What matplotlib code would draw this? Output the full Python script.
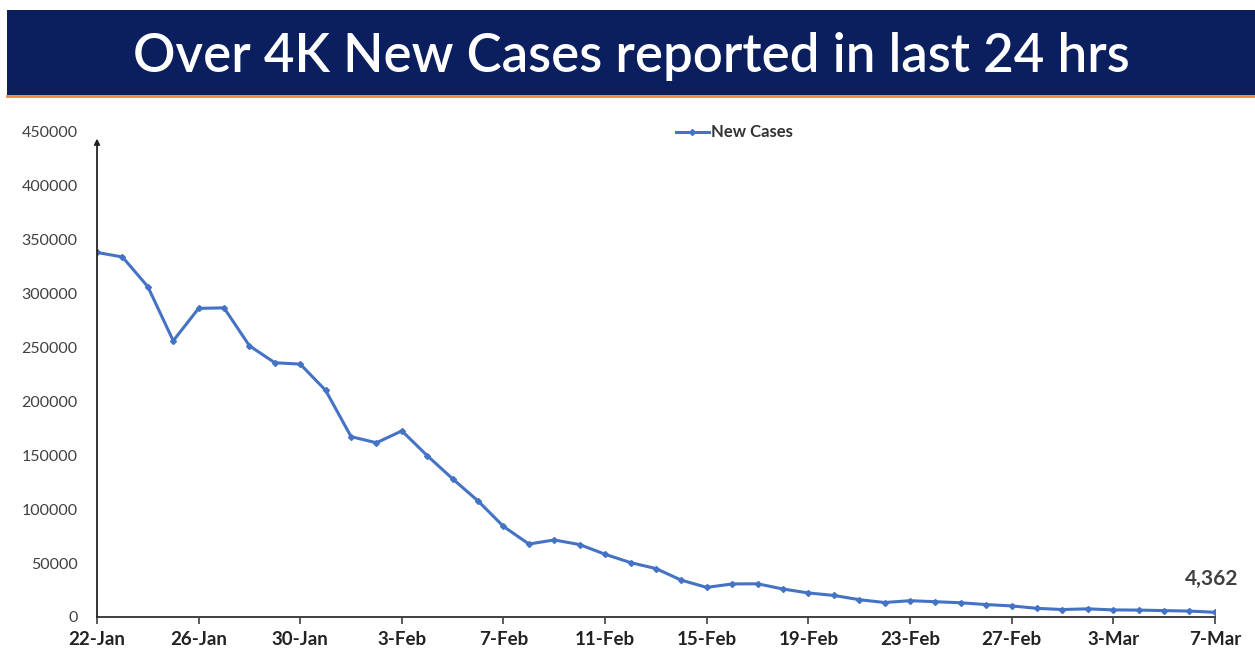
import pandas as pd
import matplotlib.pyplot as plt

# daily new cases, 22-Jan to 7-Mar
dates = pd.date_range("2022-01-22", "2022-03-07", freq="D")
new_cases = [337704, 333533, 306064, 255874, 285914, 286384, 251209, 235532,
             234281, 209918, 167059, 161386, 172433, 149394, 127952, 107474,
             83876, 67597, 71365, 67084, 58077, 50407, 44877, 34113, 27409,
             30615, 30757, 25920, 22270, 19968, 16051, 13405, 15102, 14148,
             13166, 11499, 10273, 8013, 6915, 7554, 6561, 6396, 5921, 5476,
             4362]
tick_dates = pd.date_range("2022-01-22", "2022-03-07", freq="4D")
tick_labels = ["22-Jan", "26-Jan", "30-Jan", "3-Feb", "7-Feb", "11-Feb",
               "15-Feb", "19-Feb", "23-Feb", "27-Feb", "3-Mar", "7-Mar"]
y_ticks = list(range(0, 450001, 50000))

TITLE = "Over 4K New Cases reported in last 24 hrs"
NAVY = "#0b1f5e"
BLUE = "#4472c4"

fig = plt.figure(figsize=(12.55, 6.52), dpi=100)

# header band
band = fig.add_axes([0.0056, 0.855, 0.9944, 0.13])
band.set_facecolor(NAVY)
band.set_xticks([])
band.set_yticks([])
for s in band.spines.values():
    s.set_visible(False)
band.text(0.5, 0.45, TITLE, color="white", fontsize=38, family="Lato",
          fontweight="semibold", ha="center", va="center",
          transform=band.transAxes)
fig.add_artist(plt.Line2D([0.0056, 1.0], [0.853, 0.853], color="#e8894a",
                          lw=2, transform=fig.transFigure))

ax = fig.add_axes([0.0773, 0.0537, 0.8907, 0.745])
ax.plot(dates, new_cases, color=BLUE, lw=2.2, marker="D", markersize=3,
        label="New Cases")
ax.set_xlim(dates[0], dates[-1])
ax.set_ylim(0, 450000)
ax.set_yticks(y_ticks)
ax.set_yticklabels([str(v) for v in y_ticks], fontsize=11.5, color="#404040",
                   family="Lato")
ax.tick_params(axis="y", length=0, pad=14)
ax.set_xticks(tick_dates)
ax.set_xticklabels(tick_labels, fontsize=13.5, fontweight="bold",
                   color="#222222", family="Lato")
ax.tick_params(axis="x", direction="out", length=5, width=1.2, pad=5,
               color="#404040")
for s in ["top", "right", "left"]:
    ax.spines[s].set_visible(False)
ax.spines["bottom"].set_color("#404040")
ax.spines["bottom"].set_linewidth(1.4)
ax.annotate("", xy=(0, 0.985), xytext=(0, 0), xycoords="axes fraction",
            arrowprops=dict(arrowstyle="-|>", color="#222222", lw=1.3,
                            mutation_scale=8, shrinkA=0, shrinkB=0))

ax.annotate(f"{new_cases[-1]:,}", xy=(dates[-1], new_cases[-1]),
            xytext=(-2, 20), textcoords="offset points", ha="center",
            fontsize=15, fontweight="bold", color="#404040", family="Lato")

leg = ax.legend(loc="upper center", bbox_to_anchor=(0.57, 1.045), frameon=False,
                handlelength=2.0, handletextpad=0.1,
                prop={"family": "Lato", "size": 12, "weight": "bold"})
for t in leg.get_texts():
    t.set_color("#333333")
fig.savefig("out.png", dpi=100)
